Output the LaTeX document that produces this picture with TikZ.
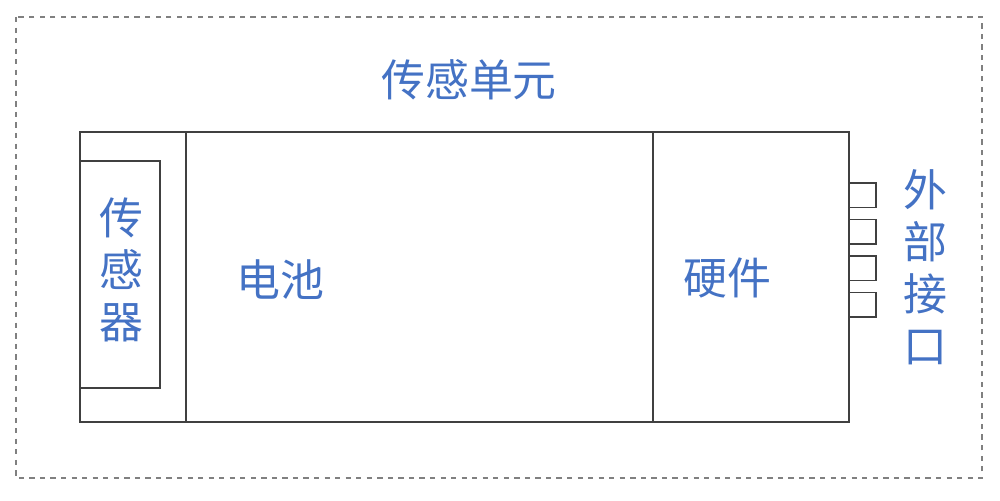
\documentclass[tikz,border=0pt]{standalone}
\usepackage{fontspec}
\newfontfamily\cjk{Noto Sans CJK SC}
\definecolor{textblue}{HTML}{4472C4}
\definecolor{linegray}{HTML}{404040}
\tikzset{
  label/.style={text=textblue,font=\cjk\fontsize{25}{29.5}\selectfont,inner sep=0pt,align=center},
  part/.style={draw=linegray,line width=0.6pt},
}
\begin{document}
\begin{tikzpicture}[x=0.02cm,y=-0.02cm]
  \useasboundingbox (0,0) rectangle (1000,500);
  \draw[gray,dashed,line width=0.6pt] (16,17) rectangle (982,478);

  % unit body
  \draw[part] (80,132) rectangle (849,422);
  \draw[part] (80,161) rectangle (160,388);
  \draw[part] (186,132) -- (186,422);
  \draw[part] (653,132) -- (653,422);

  % ports
  \foreach \y in {183,219.5,256,292.5}
    \draw[part] (849,\y) rectangle (876,\y+24.5);

  \node[label] (unit) at (469,80) {传感单元};
  \node[label] (sensor) at (121,270) {传\\感\\器};
  \node[label] (battery) at (280,280) {电池};
  \node[label] (hardware) at (727,278) {硬件};
  \node[label] (ports) at (925,267) {外\\部\\接\\口};
\end{tikzpicture}
\end{document}
